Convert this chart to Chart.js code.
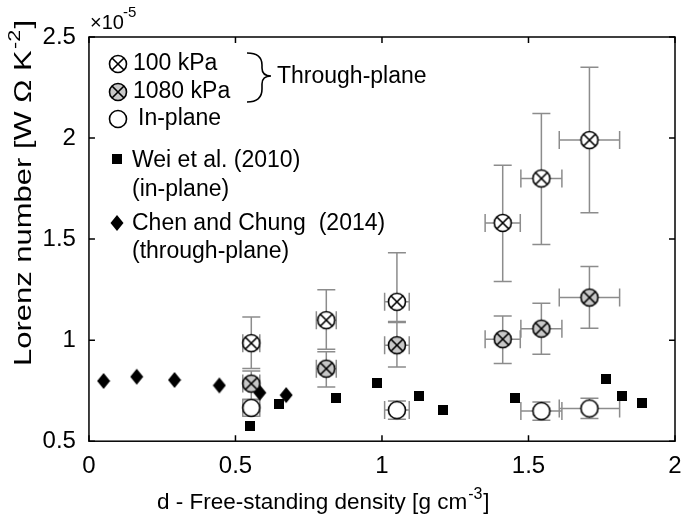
<!DOCTYPE html>
<html>
<head>
<meta charset="utf-8">
<script src="https://cdn.jsdelivr.net/npm/chart.js@4.4.0/dist/chart.umd.min.js"></script>
<style>
    html, body { margin: 0; padding: 0; background: #fff; }
</style>
</head>
<body>
<canvas id="chart" width="685" height="516"></canvas>
<script>
// density values [g cm-3] and Lorenz numbers [x1e-5 W Ohm K-2]
const throughX = [0.554, 0.81, 1.051, 1.412, 1.544, 1.708];
const throughXErr = [0.029, 0.034, 0.042, 0.06, 0.07, 0.103];

const kpa100 = [0.985, 1.099, 1.19, 1.58, 1.80, 1.99];
const kpa100Lo = [0.86, 0.955, 1.092, 1.29, 1.473, 1.63];
const kpa100Hi = [1.115, 1.249, 1.432, 1.865, 2.121, 2.35];

const kpa1080 = [0.785, 0.859, 0.975, 1.005, 1.057, 1.211];
const kpa1080Lo = [0.705, 0.768, 0.867, 0.885, 0.93, 1.059];
const kpa1080Hi = [0.847, 0.943, 1.087, 1.12, 1.183, 1.365];

const inPlaneX = [0.554, 1.051, 1.544, 1.708];
const inPlaneXErr = [0.029, 0.042, 0.07, 0.103];
const inPlaneY = [0.665, 0.654, 0.649, 0.662];
const inPlaneYErr = [0.042, 0.045, 0.045, 0.05];

const weiX = [0.549, 0.648, 0.842, 0.983, 1.127, 1.207, 1.454, 1.766, 1.819, 1.889];
const weiY = [0.575, 0.682, 0.714, 0.789, 0.725, 0.654, 0.712, 0.806, 0.723, 0.69];

const chenX = [0.05, 0.163, 0.292, 0.445, 0.583, 0.673];
const chenY = [0.798, 0.819, 0.803, 0.776, 0.74, 0.728];

const xTicks = [0, 0.5, 1, 1.5, 2];
const xTickLabels = ["0", "0.5", "1", "1.5", "2"];
const yTicks = [0.5, 1, 1.5, 2, 2.5];
const yTickLabels = ["0.5", "1", "1.5", "2", "2.5"];

const FONT = '"Liberation Sans", Arial, sans-serif';
Chart.defaults.font.family = FONT;
Chart.defaults.color = "#000";

function zip(xs, ys) {
    return xs.map((v, i) => ({ x: v, y: ys[i] }));
}

function makeCircle(fill, cross) {
    let c = document.createElement("canvas");
    c.width = 22;
    c.height = 22;
    let g = c.getContext("2d");
    g.beginPath();
    g.arc(11, 11, 8.5, 0, Math.PI * 2);
    g.fillStyle = fill;
    g.fill();
    g.lineWidth = 1.6;
    g.strokeStyle = "#000";
    g.stroke();
    if (cross) {
        let d = 8.5 * Math.SQRT1_2;
        g.beginPath();
        g.moveTo(11 - d, 11 - d);
        g.lineTo(11 + d, 11 + d);
        g.moveTo(11 + d, 11 - d);
        g.lineTo(11 - d, 11 + d);
        g.stroke();
    }
    return c;
}

function makeSquare() {
    let c = document.createElement("canvas");
    c.width = 10;
    c.height = 10;
    let g = c.getContext("2d");
    g.fillStyle = "#000";
    g.fillRect(0, 0, 10, 10);
    return c;
}

function makeDiamond() {
    let c = document.createElement("canvas");
    c.width = 14;
    c.height = 18;
    let g = c.getContext("2d");
    g.fillStyle = "#000";
    g.beginPath();
    g.moveTo(7, 1);
    g.lineTo(13.5, 9);
    g.lineTo(7, 17);
    g.lineTo(0.5, 9);
    g.closePath();
    g.fill();
    return c;
}

const mk100 = makeCircle("#fff", true);
const mk1080 = makeCircle("#c8c8c8", true);
const mkIn = makeCircle("#fff", false);
const mkSq = makeSquare();
const mkDia = makeDiamond();

// box with inward ticks + error bars, drawn under the markers
const frameAndErrors = {
    id: "frameAndErrors",
    beforeDatasetsDraw(chart) {
        const { ctx, chartArea: a } = chart;
        const x = chart.scales.x, y = chart.scales.y;

        ctx.save();
        ctx.strokeStyle = "#000";
        ctx.lineWidth = 1.5;
        ctx.strokeRect(a.left, a.top, a.right - a.left, a.bottom - a.top);
        ctx.beginPath();
        xTicks.forEach(v => {
            let px = x.getPixelForValue(v);
            ctx.moveTo(px, a.bottom); ctx.lineTo(px, a.bottom - 6);
            ctx.moveTo(px, a.top); ctx.lineTo(px, a.top + 6);
        });
        yTicks.forEach(v => {
            let py = y.getPixelForValue(v);
            ctx.moveTo(a.left, py); ctx.lineTo(a.left + 6, py);
            ctx.moveTo(a.right, py); ctx.lineTo(a.right - 6, py);
        });
        ctx.stroke();

        ctx.strokeStyle = "#8c8c8c";
        ctx.lineWidth = 1.5;
        const cap = 9;
        function bar(cx, cy, xlo, xhi, ylo, yhi) {
            let px = x.getPixelForValue(cx), py = y.getPixelForValue(cy);
            let pxl = x.getPixelForValue(xlo), pxh = x.getPixelForValue(xhi);
            let pyl = y.getPixelForValue(ylo), pyh = y.getPixelForValue(yhi);
            ctx.beginPath();
            ctx.moveTo(px, pyl); ctx.lineTo(px, pyh);
            ctx.moveTo(px - cap, pyl); ctx.lineTo(px + cap, pyl);
            ctx.moveTo(px - cap, pyh); ctx.lineTo(px + cap, pyh);
            ctx.moveTo(pxl, py); ctx.lineTo(pxh, py);
            ctx.moveTo(pxl, py - cap); ctx.lineTo(pxl, py + cap);
            ctx.moveTo(pxh, py - cap); ctx.lineTo(pxh, py + cap);
            ctx.stroke();
        }
        for (let i = 0; i < throughX.length; i++) {
            let xl = throughX[i] - throughXErr[i], xh = throughX[i] + throughXErr[i];
            bar(throughX[i], kpa100[i], xl, xh, kpa100Lo[i], kpa100Hi[i]);
            bar(throughX[i], kpa1080[i], xl, xh, kpa1080Lo[i], kpa1080Hi[i]);
        }
        for (let i = 0; i < inPlaneX.length; i++) {
            bar(inPlaneX[i], inPlaneY[i], inPlaneX[i] - inPlaneXErr[i], inPlaneX[i] + inPlaneXErr[i],
                inPlaneY[i] - inPlaneYErr[i], inPlaneY[i] + inPlaneYErr[i]);
        }
        ctx.restore();
    }
};

function font(size) {
    return size + "px " + FONT;
}

// legend, brace, axis titles and exponent
const annotations = {
    id: "annotations",
    afterDraw(chart) {
        const ctx = chart.ctx;
        ctx.save();
        ctx.fillStyle = "#000";
        ctx.textBaseline = "middle";
        ctx.textAlign = "left";

        ctx.drawImage(mk100, 118 - 11, 64 - 11);
        ctx.drawImage(mk1080, 118 - 11, 92 - 11);
        ctx.drawImage(mkIn, 118 - 11, 119 - 11);
        ctx.drawImage(mkSq, 117 - 5, 159 - 5);
        ctx.drawImage(mkDia, 117 - 7, 223 - 9);

        ctx.font = font(23);
        ctx.fillText("100 kPa", 133, 64);
        ctx.fillText("1080 kPa", 133, 92);
        ctx.fillText("In-plane", 138, 119);
        ctx.fillText("Wei et al. (2010)", 132, 161);
        ctx.fillText("(in-plane)", 132, 190);
        ctx.fillText("Chen and Chung  (2014)", 132, 224);
        ctx.fillText("(through-plane)", 132, 252);
        ctx.fillText("Through-plane", 277, 77);

        ctx.strokeStyle = "#000";
        ctx.lineWidth = 1.6;
        ctx.beginPath();
        ctx.moveTo(247, 53);
        ctx.quadraticCurveTo(262, 53, 262, 65);
        ctx.lineTo(262, 68);
        ctx.quadraticCurveTo(262, 76, 271, 76);
        ctx.quadraticCurveTo(262, 76, 262, 84);
        ctx.lineTo(262, 89);
        ctx.quadraticCurveTo(262, 102, 247, 102);
        ctx.stroke();

        // exponent
        ctx.textBaseline = "alphabetic";
        ctx.font = font(20);
        ctx.fillText("\u00d710", 90, 29);
        ctx.font = font(15);
        ctx.fillText("-5", 123, 17);

        // x title
        ctx.font = font(22.5);
        let xt = "d - Free-standing density [g cm";
        let w = ctx.measureText(xt).width;
        ctx.fillText(xt, 157, 509);
        ctx.font = font(16);
        ctx.fillText("-3", 157 + w + 1, 499);
        let w2 = ctx.measureText("-3").width;
        ctx.font = font(22.5);
        ctx.fillText("]", 157 + w + w2 + 2, 509);

        // y title, stretched along its length like the reference
        let main = "Lorenz number [W \u03a9 K";
        ctx.font = font(24.5);
        let wm = ctx.measureText(main).width;
        let wb = ctx.measureText("]").width;
        ctx.font = font(17);
        let ws = ctx.measureText("-2").width;
        let total = wm + ws + wb + 2;
        let stretch = 346 / total;
        ctx.translate(31, 366);
        ctx.rotate(-Math.PI / 2);
        ctx.scale(stretch, 1);
        ctx.font = font(24.5);
        ctx.fillText(main, 0, 0);
        ctx.fillText("]", wm + ws + 2, 0);
        ctx.font = font(17);
        ctx.fillText("-2", wm + 1, -11);
        ctx.restore();
    }
};

const chart = document.getElementById("chart");
const ctx = chart.getContext("2d");
const myChart = new Chart(ctx, {
    type: "scatter",
    data: {
        datasets: [
            { label: "100 kPa", data: zip(throughX, kpa100), pointStyle: mk100, pointRadius: 9 },
            { label: "1080 kPa", data: zip(throughX, kpa1080), pointStyle: mk1080, pointRadius: 9 },
            { label: "In-plane", data: zip(inPlaneX, inPlaneY), pointStyle: mkIn, pointRadius: 9 },
            { label: "Chen and Chung (2014)", data: zip(chenX, chenY), pointStyle: mkDia, pointRadius: 8 },
            { label: "Wei et al. (2010)", data: zip(weiX, weiY), pointStyle: mkSq, pointRadius: 6 }
        ]
    },
    options: {
        responsive: false,
        animation: false,
        events: [],
        layout: { padding: { left: 29.6, right: 6.5, top: 37, bottom: 24 } },
        plugins: { legend: { display: false }, tooltip: { enabled: false } },
        scales: {
            x: {
                type: "linear",
                min: 0,
                max: 2,
                afterBuildTicks: axis => { axis.ticks = xTicks.map(v => ({ value: v })); },
                afterFit: axis => { axis.paddingLeft = 0; axis.paddingRight = 0; },
                ticks: { font: { size: 24 }, padding: 11, maxRotation: 0, callback: (v, i) => xTickLabels[i] },
                grid: { display: false, drawTicks: false },
                border: { display: false }
            },
            y: {
                type: "linear",
                min: 0.5,
                max: 2.5,
                afterBuildTicks: axis => { axis.ticks = yTicks.map(v => ({ value: v })); },
                ticks: { font: { size: 24 }, padding: 13, callback: (v, i) => yTickLabels[i] },
                grid: { display: false, drawTicks: false },
                border: { display: false }
            }
        }
    },
    plugins: [frameAndErrors, annotations]
});
</script>
</body>
</html>
